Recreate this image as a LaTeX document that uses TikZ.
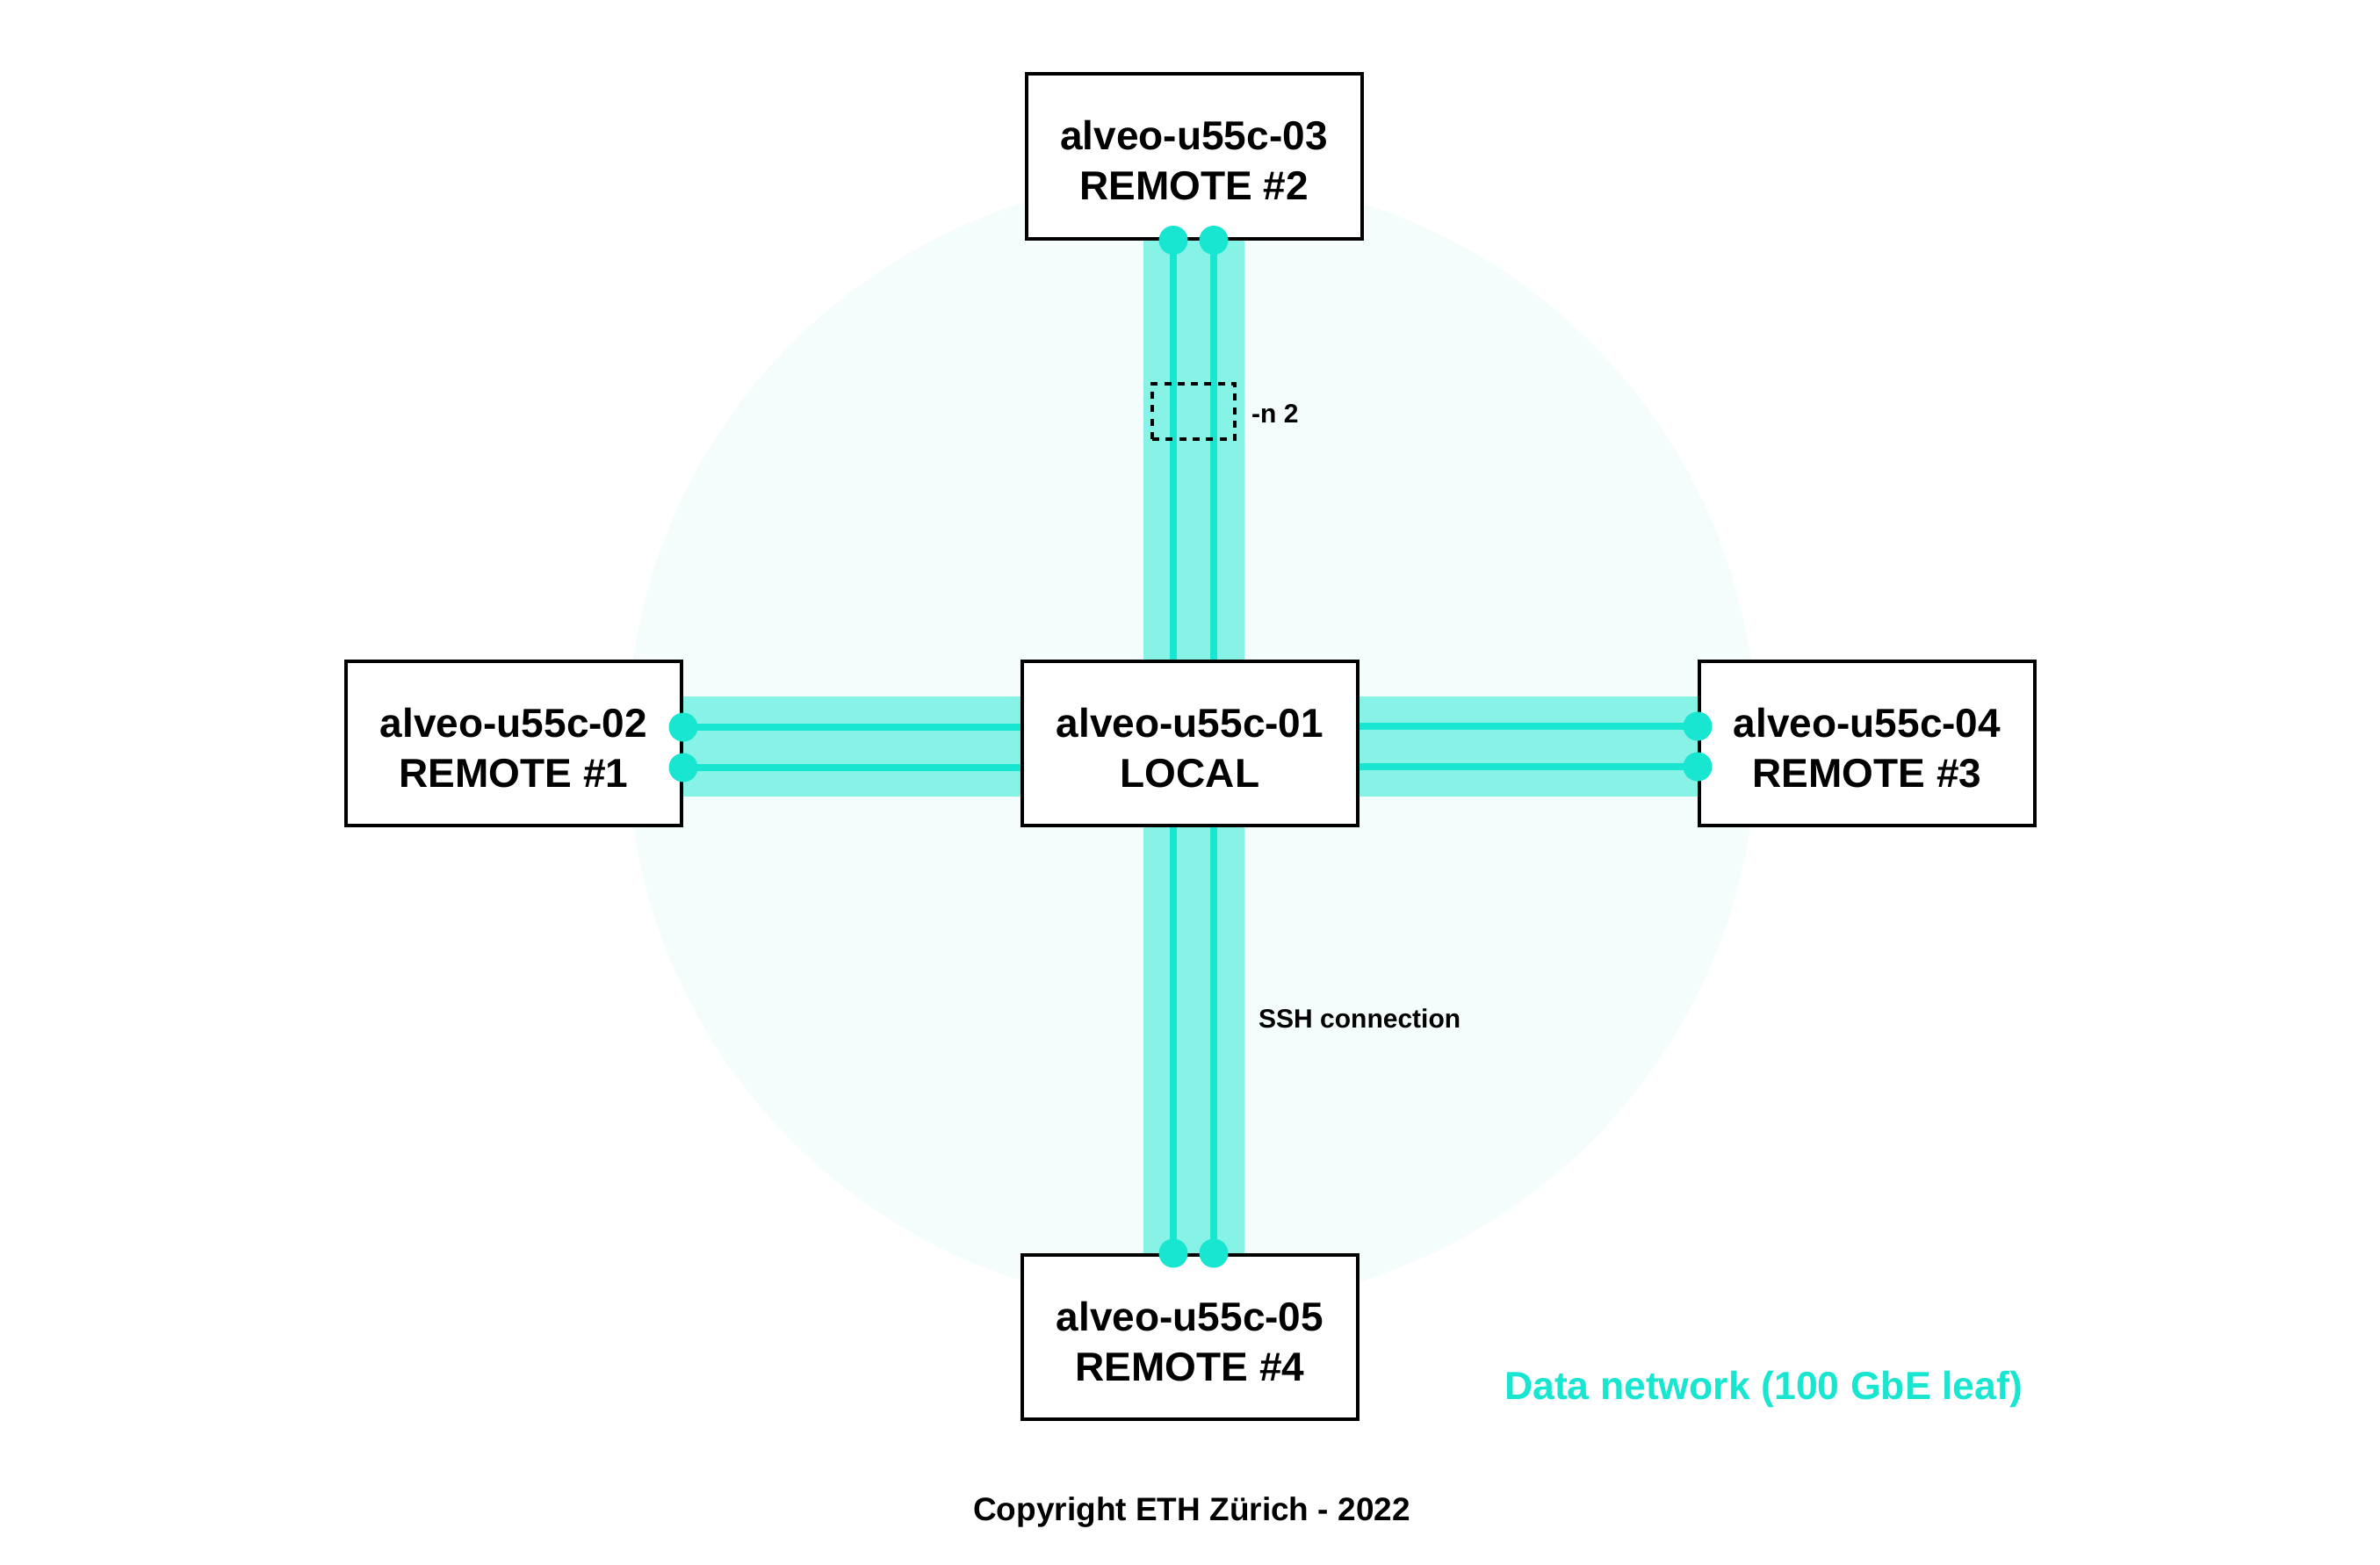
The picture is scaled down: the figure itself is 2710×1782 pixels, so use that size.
\documentclass[tikz,border=0pt]{standalone}
\usepackage{fontspec}
\setmainfont{Liberation Sans}
\usetikzlibrary{calc,backgrounds}
\definecolor{bandc}{RGB}{135,242,230}
\definecolor{linec}{RGB}{25,230,208}
\definecolor{circc}{RGB}{244,253,252}
\newcommand{\hoststrut}{\rule{0pt}{43pt}}
\begin{document}
\begin{tikzpicture}[x=1pt,y=-1pt,
  host/.style={draw=black, line width=4pt, fill=white, minimum width=382pt,
    minimum height=187pt, inner sep=0pt, align=center,
    font=\bfseries\fontsize{46}{57}\selectfont},
  band/.style={fill=bandc, draw=none},
  link/.style={draw=linec, line width=8pt},
  port/.style={circle, fill=linec, draw=none, minimum size=33pt, inner sep=0pt},
  selbox/.style={draw=black, line width=4pt, dash pattern=on 8pt off 7.3pt,
    minimum width=94pt, minimum height=63pt, inner sep=0pt},
  small/.style={font=\bfseries\fontsize{30}{36}\selectfont, inner sep=0pt},
]
\useasboundingbox (0,0) rectangle (2710,1782);

% hosts
\node[host] (n01) at (1355,846.5) {\hoststrut alveo-u55c-01\\LOCAL};
\node[host] (n02) at (585,846.5) {\hoststrut alveo-u55c-02\\REMOTE \#1};
\node[host] (n03) at (1359.5,178) {\hoststrut alveo-u55c-03\\REMOTE \#2};
\node[host] (n04) at (2126,846.5) {\hoststrut alveo-u55c-04\\REMOTE \#3};
\node[host] (n05) at (1355,1522.5) {\hoststrut alveo-u55c-05\\REMOTE \#4};

% port coordinates
\coordinate (t1) at ($(n03.south)+(-23.5,0)$);
\coordinate (t2) at ($(n03.south)+(22.5,0)$);
\coordinate (b1) at ($(n05.north)+(-19,0)$);
\coordinate (b2) at ($(n05.north)+(27,0)$);
\coordinate (l1) at ($(n02.east)+(0,-18.5)$);
\coordinate (l2) at ($(n02.east)+(0,27.5)$);
\coordinate (r1) at ($(n04.west)+(0,-19.5)$);
\coordinate (r2) at ($(n04.west)+(0,26.5)$);

\begin{scope}[on background layer]
  \fill[white] (0,0) rectangle (2710,1782);
  \fill[circc] (1357,845) circle[radius=643];
  % bands
  \fill[band] ($(n03.center)+(-57.5,0)$) rectangle ($(n05.center -| n03.center)+(57.5,0)$);
  \fill[band] ($(n02.center)+(0,-53.5)$) rectangle ($(n04.center |- n02.center)+(0,60.5)$);
\end{scope}

% links
\draw[link] (t1) -- (t1 |- n01.north);
\draw[link] (t2) -- (t2 |- n01.north);
\draw[link] (b1) -- (b1 |- n01.south);
\draw[link] (b2) -- (b2 |- n01.south);
\draw[link] (l1) -- (l1 -| n01.west);
\draw[link] (l2) -- (l2 -| n01.west);
\draw[link] (r1) -- (r1 -| n01.east);
\draw[link] (r2) -- (r2 -| n01.east);

% ports
\foreach \p in {t1,t2,b1,b2,l1,l2,r1,r2} \node[port] (p\p) at (\p) {};

% -n 2 selection
\node[selbox] (sel) at (1359,468.5) {};
\node[small, anchor=base west] (nlab) at (1425,481) {-n 2};

% labels
\node[small, anchor=base west] (ssh) at (1433,1170) {SSH connection};
\node[font=\bfseries\fontsize{44.6}{52}\selectfont, text=linec, anchor=base, inner sep=0pt] (net) at (2008,1593) {Data network (100 GbE leaf)};
\node[font=\bfseries\fontsize{37}{44}\selectfont, anchor=base, inner sep=0pt] (copy) at (1357,1731) {Copyright ETH Zürich - 2022};
\end{tikzpicture}
\end{document}
